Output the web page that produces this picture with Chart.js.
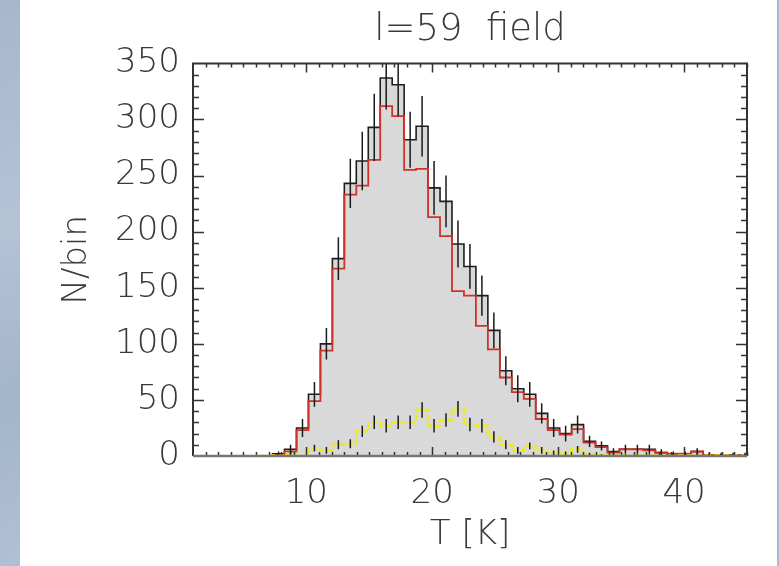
<!DOCTYPE html>
<html>
<head>
<meta charset="utf-8">
<script src="https://cdn.jsdelivr.net/npm/chart.js@4"></script>
<style>
  html, body { margin: 0; padding: 0; background: #fff; }
  #wrap { position: relative; width: 779px; height: 566px; overflow: hidden; }
  #stripL { position: absolute; left: 0; top: 0; width: 20px; height: 566px;
    background: linear-gradient(160deg, #a6b7cc, #b4c3d6 40%, #a3b5cb 70%, #b0c0d4); }
  #stripR { position: absolute; left: 777px; top: 0; width: 2px; height: 566px; background: #a9bace; }
  #box { position: absolute; left: 0; top: 0; width: 779px; height: 566px; }
</style>
</head>
<body>
<div id="wrap">
  <div id="stripL"></div>
  <div id="stripR"></div>
  <div id="box"><canvas id="c"></canvas></div>
</div>
<script>
// Temperature histogram, l=59 field: total (black, with errors), red subset, yellow subset.
const BIN_START = 6.37;   // K, left edge of first bin
const BIN_WIDTH = 0.95;   // K

const allCounts = [0, 2, 6, 25, 55, 100, 176, 243, 263, 293, 337, 331, 282, 294, 239, 227, 189, 169, 143, 112,
  76, 60, 55, 38, 25, 20, 28, 13, 9, 4, 6, 6, 6, 3, 2, 2, 4, 1, 1, 1, 1];
const allErr = [0, 2, 4, 8, 11, 14, 19, 22, 26, 30, 28, 28, 25, 27, 24, 23, 21, 20, 18, 16,
  13, 12, 11, 9, 8, 7, 8, 5, 4, 3, 4, 4, 4, 3, 2, 2, 3, 2, 2, 2, 2];
const redCounts = [0, 1, 4, 23, 49, 94, 167, 233, 241, 264, 312, 303, 255, 256, 213, 196, 147, 143, 116, 95,
  70, 57, 51, 33, 23, 19, 24, 12, 8, 3, 6, 6, 5, 3, 2, 2, 4, 1, 1, 1, 1];
const yellowCounts = [0, 0.5, 2, 0, 7, 5, 10, 11, 22, 30, 27, 30, 30, 41, 27, 32, 42, 28, 27, 17,
  10, 5, 9, 5, 3, 2, 6, 1, 0.5, 0.5, 0.5, 0.5, 0.5, 0.5, 0.5, 0.5, 0.5, 0.5, 0.5, 0.5, 0.5];
const yellowErr = [0, 1, 2, 1, 3, 3, 4, 4, 5, 6, 6, 6, 6, 7, 6, 6, 7, 6, 6, 5,
  4, 3, 3, 3, 2, 2, 3, 2, 1, 1, 1, 1, 1, 1, 1, 1, 1, 1, 1, 1, 1];

const xTicks = [10, 20, 30, 40];
const yTicks = [0, 50, 100, 150, 200, 250, 300, 350];

const FONT = { family: "'DejaVu Sans', sans-serif", size: 34, weight: 200 };
const INK = "#3a3a3a";

// step outline: one point per bin left edge, plus the closing right edge
function steps(counts) {
  const pts = counts.map((v, i) => ({ x: BIN_START + i * BIN_WIDTH, y: v }));
  pts.push({ x: BIN_START + counts.length * BIN_WIDTH, y: counts[counts.length - 1] });
  return pts;
}
// vertical error segments at bin centres, broken by null gaps
function errBars(counts, errs) {
  const pts = [];
  counts.forEach((v, i) => {
    if (!errs[i]) return;
    const c = BIN_START + (i + 0.5) * BIN_WIDTH;
    pts.push({ x: c, y: v - errs[i] }, { x: c, y: v + errs[i] }, { x: c, y: null });
  });
  return pts;
}

// IDL-style box with inward ticks on all four sides
const frame = {
  id: "frame",
  afterDatasetsDraw(chart) {
    const { ctx, chartArea: a, scales: { x, y } } = chart;
    ctx.save();
    ctx.strokeStyle = "#333";
    ctx.lineWidth = 1.5;
    for (let t = 2; t <= 45; t++) {
      const px = Math.round(x.getPixelForValue(t)) + 0.5;
      const len = t % 10 === 0 ? 9 : 4;
      ctx.beginPath();
      ctx.moveTo(px, a.bottom); ctx.lineTo(px, a.bottom - len);
      ctx.moveTo(px, a.top); ctx.lineTo(px, a.top + len);
      ctx.stroke();
    }
    for (let v = 10; v < 350; v += 10) {
      const py = Math.round(y.getPixelForValue(v)) + 0.5;
      const len = v % 50 === 0 ? 11 : 6;
      ctx.beginPath();
      ctx.moveTo(a.left, py); ctx.lineTo(a.left + len, py);
      ctx.moveTo(a.right, py); ctx.lineTo(a.right - len, py);
      ctx.stroke();
    }
    ctx.lineWidth = 2;
    ctx.beginPath();
    ctx.moveTo(a.left, a.bottom); ctx.lineTo(a.left, a.top);
    ctx.lineTo(a.right, a.top); ctx.lineTo(a.right, a.bottom);
    ctx.stroke();
    ctx.strokeStyle = "#777";
    ctx.lineWidth = 2.5;
    ctx.beginPath();
    ctx.moveTo(a.left, a.bottom); ctx.lineTo(a.right, a.bottom);
    ctx.stroke();
    ctx.restore();
  },
};

new Chart(document.getElementById("c"), {
  type: "line",
  data: {
    datasets: [
      { data: errBars(allCounts, allErr), borderColor: "#1a1a1a", borderWidth: 1.5, spanGaps: false, order: 0 },
      { data: errBars(yellowCounts, yellowErr), borderColor: "#1a1a1a", borderWidth: 1.5, spanGaps: false, order: 1 },
      { data: steps(yellowCounts), borderColor: "#eeea1c", borderWidth: 2.5, borderDash: [6, 3], stepped: true, order: 2 },
      { data: steps(redCounts), borderColor: "#d0322a", borderWidth: 1.8, stepped: true, order: 3 },
      { data: steps(allCounts), borderColor: "#1e1e1e", borderWidth: 1.6, stepped: true,
        fill: "origin", backgroundColor: "#d9d9d9", order: 4 },
    ],
  },
  options: {
    responsive: true,
    maintainAspectRatio: false,
    animation: false,
    elements: { point: { radius: 0 }, line: { tension: 0 } },
    layout: { padding: { left: 57, right: 32, top: 0, bottom: 0 } },
    plugins: {
      legend: { display: false },
      tooltip: { enabled: false },
      title: {
        display: true, fullSize: false, text: "l=59  field", color: INK,
        font: { ...FONT, size: 37 }, padding: { top: 8, bottom: 11 },
      },
    },
    scales: {
      x: {
        type: "linear", min: 1, max: 45,
        afterBuildTicks: (s) => { s.ticks = xTicks.map((v) => ({ value: v })); },
        afterFit: (s) => { s.height = 110; },
        grid: { display: false, drawTicks: false },
        border: { display: false },
        ticks: { color: INK, font: FONT, padding: 18, maxRotation: 0 },
        title: { display: true, text: "T [K]", color: INK, font: FONT, padding: { top: 0, bottom: 10 } },
      },
      y: {
        min: 0, max: 350,
        afterBuildTicks: (s) => { s.ticks = yTicks.map((v) => ({ value: v })); },
        afterFit: (s) => { s.width = 136; },
        grid: { display: false, drawTicks: false },
        border: { display: false },
        ticks: { color: INK, font: FONT, padding: 13 },
        title: { display: true, text: "N/bin", color: INK, font: FONT, padding: { top: 0, bottom: 0 } },
      },
    },
  },
  plugins: [frame],
});
</script>
</body>
</html>
